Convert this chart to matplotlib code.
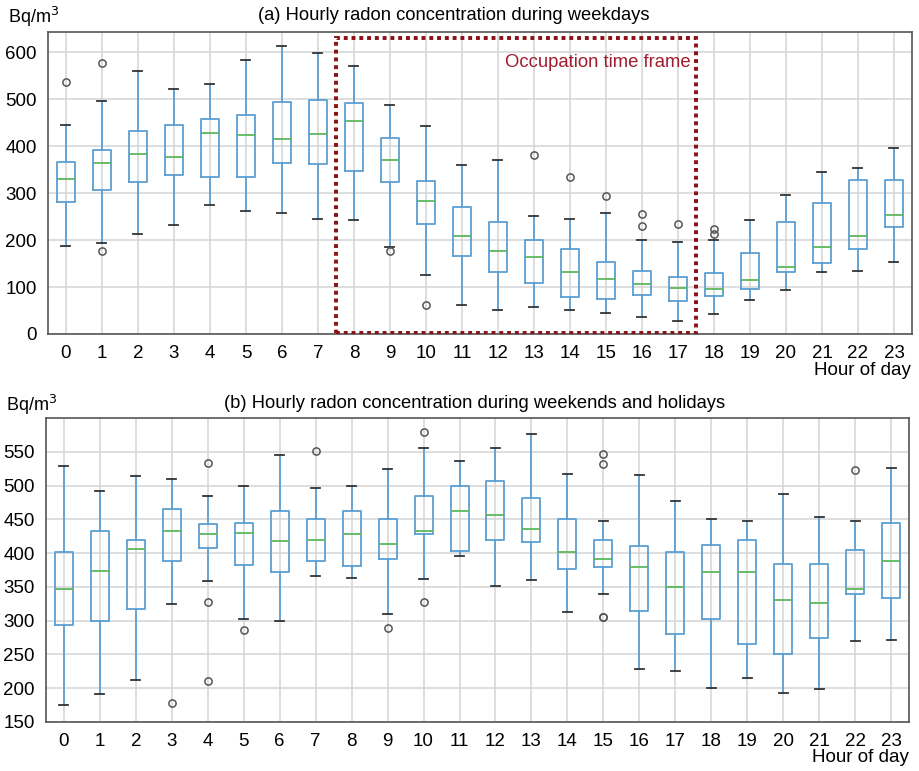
import matplotlib
matplotlib.use("Agg")
import matplotlib.pyplot as plt
from matplotlib.patches import Rectangle

plt.rcParams['font.family'] = ['Liberation Sans', 'DejaVu Sans']

hours = list(range(24))
hour_labels = [str(h) for h in hours]

# (a) weekdays
wd_whislo = [188, 194, 212, 232, 274, 262, 258, 245, 242, 186, 126, 62, 52, 58, 52, 44, 36, 28, 43, 72, 94, 131, 134, 154]
wd_q1     = [282, 307, 323, 338, 335, 335, 365, 363, 347, 323, 234, 166, 131, 109, 78, 74, 82, 70, 80, 96, 131, 152, 182, 228]
wd_med    = [329, 365, 383, 377, 428, 423, 415, 425, 453, 371, 284, 208, 176, 164, 131, 118, 107, 98, 96, 116, 143, 186, 208, 253]
wd_q3     = [367, 391, 433, 446, 457, 466, 494, 499, 492, 417, 325, 271, 238, 201, 180, 154, 135, 121, 129, 172, 238, 279, 328, 328]
wd_whishi = [445, 497, 560, 521, 533, 584, 614, 599, 570, 487, 443, 360, 371, 251, 245, 258, 200, 196, 200, 242, 296, 345, 353, 395]
wd_fliers = [[537], [577, 176], [], [], [], [], [], [], [], [176], [62], [], [], [381], [335], [293], [255, 231], [235], [224, 212], [], [], [], [], []]

# (b) weekends and holidays
we_whislo = [175, 192, 212, 325, 359, 302, 300, 366, 363, 310, 362, 395, 351, 360, 313, 340, 229, 226, 200, 215, 193, 199, 270, 271]
we_q1     = [294, 300, 317, 388, 407, 383, 372, 389, 381, 391, 428, 403, 420, 416, 376, 380, 314, 280, 302, 266, 251, 274, 340, 333]
we_med    = [347, 373, 406, 432, 428, 430, 418, 419, 428, 413, 433, 463, 457, 436, 401, 392, 379, 350, 372, 372, 330, 326, 347, 389]
we_q3     = [401, 433, 419, 466, 443, 445, 462, 451, 463, 451, 484, 500, 507, 482, 450, 420, 410, 402, 412, 419, 384, 384, 404, 444]
we_whishi = [529, 492, 514, 509, 485, 499, 545, 497, 499, 525, 556, 537, 555, 577, 517, 447, 516, 477, 451, 448, 487, 454, 447, 526]
we_fliers = [[], [], [], [178], [533, 328, 211], [286], [], [551], [], [289], [579, 327], [], [], [], [], [547, 532, 305, 306], [], [], [], [], [], [], [523], []]

box_color = '#5a9fd4'
cap_color = '#333333'
med_color = '#5cb85c'
grid_color = '#d4d4d4'


def stats(lo, q1, med, q3, hi, fl):
    return [dict(whislo=a, q1=b, med=c, q3=d, whishi=e, fliers=f, label=l)
            for a, b, c, d, e, f, l in zip(lo, q1, med, q3, hi, fl, hour_labels)]


def draw(ax, st):
    ax.bxp(st, positions=hours, widths=0.5, showfliers=True,
           boxprops=dict(color=box_color, linewidth=1.3),
           whiskerprops=dict(color=box_color, linewidth=1.3),
           capprops=dict(color=cap_color, linewidth=1.3),
           medianprops=dict(color=med_color, linewidth=1.3),
           flierprops=dict(marker='o', markerfacecolor='none', markeredgecolor='#555555',
                           markersize=5.2, markeredgewidth=1.1))
    ax.set_xlim(-0.5, 23.5)
    ax.set_xticks(hours)
    ax.set_xticklabels(hour_labels)
    ax.grid(True, color=grid_color, linewidth=1.1)
    ax.set_axisbelow(True)
    ax.tick_params(axis='both', labelsize=13.5, length=0, pad=8, colors='black')
    for s in ax.spines.values():
        s.set_color('#555555')
        s.set_linewidth(1.2)


fig = plt.figure(figsize=(9.2, 7.71), dpi=100)

ax1 = fig.add_axes([48/920, 1 - 334/771, (912-48)/920, (334-32)/771])
draw(ax1, stats(wd_whislo, wd_q1, wd_med, wd_q3, wd_whishi, wd_fliers))
ax1.set_ylim(0, 643)
ax1.set_yticks([0, 100, 200, 300, 400, 500, 600])

rect = Rectangle((7.5, 3), 10.0, 627, fill=False, edgecolor='#8b0f14',
                 linestyle=(0, (1, 1)), linewidth=2.8, zorder=5)
ax1.add_patch(rect)
ax1.text(17.35, 577, 'Occupation time frame', color='#a01c2c', fontsize=13.3,
         ha='right', va='center', zorder=6)

ax2 = fig.add_axes([46/920, 1 - 722/771, (909-46)/920, (722-418)/771])
draw(ax2, stats(we_whislo, we_q1, we_med, we_q3, we_whishi, we_fliers))
ax2.set_ylim(150, 600)
ax2.set_yticks([150, 200, 250, 300, 350, 400, 450, 500, 550])

# titles and labels
fig.text(454/920, 1 - 15/771, '(a) Hourly radon concentration during weekdays',
         ha='center', va='center', fontsize=13.2)
fig.text(475/920, 1 - 403/771, '(b) Hourly radon concentration during weekends and holidays',
         ha='center', va='center', fontsize=13.2)
fig.text(8/920, 1 - 17/771, r'Bq/m$^3$', ha='left', va='center', fontsize=13)
fig.text(6/920, 1 - 405/771, r'Bq/m$^3$', ha='left', va='center', fontsize=13)
fig.text(911/920, 1 - 370/771, 'Hour of day', ha='right', va='center', fontsize=13.5)
fig.text(909/920, 1 - 758/771, 'Hour of day', ha='right', va='center', fontsize=13.5)

fig.savefig('out.png', dpi=100)
